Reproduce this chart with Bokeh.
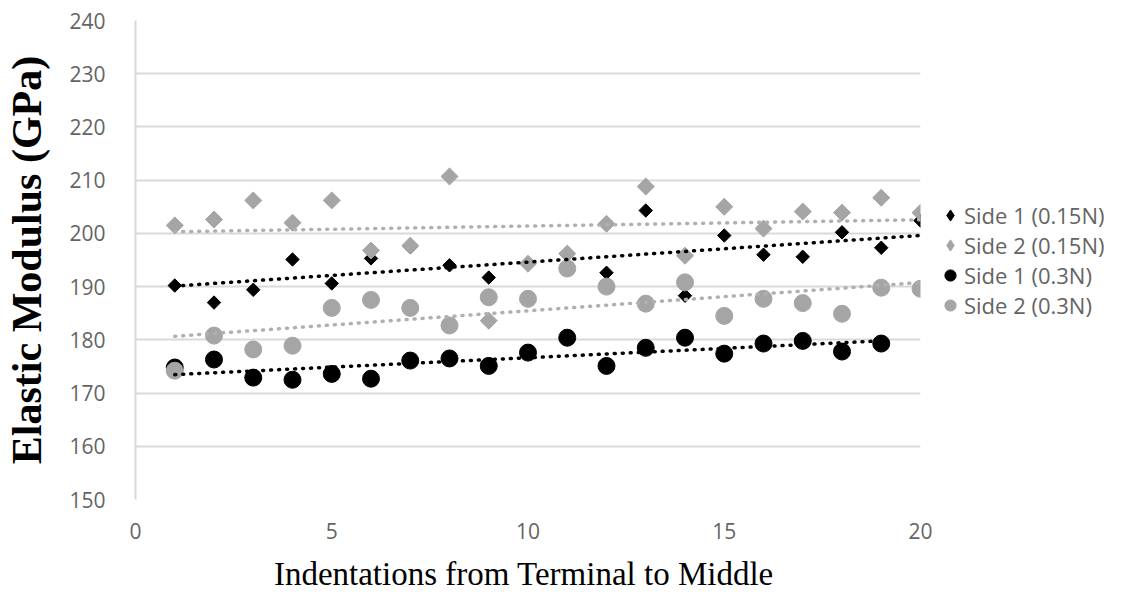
import numpy as np
from bokeh.plotting import figure
from bokeh.models import Legend, LegendItem, FixedTicker, Range1d
from bokeh.embed import file_html
from bokeh.resources import INLINE

# ---- data ----
x_s1_015 = [1, 2, 3, 4, 5, 6, 7, 8, 9, 10, 11, 12, 13, 14, 15, 16, 17, 18, 19, 20]
y_s1_015 = [190.2, 187.0, 189.4, 195.1, 190.6, 195.3, 197.4, 194.0, 191.7, 194.2, 196.0,
            192.6, 204.3, 188.3, 199.6, 196.0, 195.6, 200.2, 197.3, 202.4]

x_s2_015 = [1, 2, 3, 4, 5, 6, 7, 8, 9, 10, 11, 12, 13, 14, 15, 16, 17, 18, 19, 20]
y_s2_015 = [201.5, 202.6, 206.2, 202.0, 206.2, 196.8, 197.7, 210.7, 183.6, 194.3, 196.2,
            201.8, 208.8, 195.8, 205.0, 200.9, 204.1, 203.9, 206.7, 203.9]

x_s1_03 = [1, 2, 3, 4, 5, 6, 7, 8, 9, 10, 11, 12, 13, 14, 15, 16, 17, 18, 19]
y_s1_03 = [174.8, 176.3, 172.9, 172.5, 173.6, 172.7, 176.1, 176.5, 175.1, 177.6, 180.4,
           175.1, 178.5, 180.4, 177.4, 179.3, 179.8, 177.8, 179.3]

x_s2_03 = [1, 2, 3, 4, 5, 6, 7, 8, 9, 10, 11, 12, 13, 14, 15, 16, 17, 18, 19, 20]
y_s2_03 = [174.2, 180.8, 178.2, 178.9, 186.0, 187.5, 186.0, 182.7, 188.0, 187.7, 193.4,
           190.0, 186.8, 190.8, 184.5, 187.7, 186.9, 184.9, 189.8, 189.6]

names = ["Side 1 (0.15N)", "Side 2 (0.15N)", "Side 1 (0.3N)", "Side 2 (0.3N)"]
y_ticks = [150, 160, 170, 180, 190, 200, 210, 220, 230, 240]
x_ticks = [0, 5, 10, 15, 20]

BLACK = "#000000"
GRAY = "#a5a5a5"
TXT = "#646464"

p = figure(frame_width=785, frame_height=479, output_backend="svg", toolbar_location=None,
           x_range=Range1d(0, 20), y_range=Range1d(150, 240),
           min_border_left=135, min_border_right=205, min_border_top=20,
           min_border_bottom=93)
p.outline_line_color = None
p.background_fill_color = "white"
p.border_fill_color = "white"

p.xgrid.grid_line_color = None
p.ygrid.grid_line_color = "#d9d9d9"
p.ygrid.grid_line_width = 2

p.yaxis.ticker = FixedTicker(ticks=y_ticks)
p.xaxis.ticker = FixedTicker(ticks=x_ticks)
for ax in (p.xaxis[0], p.yaxis[0]):
    ax.major_tick_line_color = None
    ax.minor_tick_line_color = None
    ax.major_label_text_font = "Open Sans"
    ax.major_label_text_font_size = "21px"
    ax.major_label_text_color = TXT
p.xaxis.axis_line_color = None
p.yaxis.axis_line_color = "#d9d9d9"
p.yaxis.axis_line_width = 2
p.yaxis.major_label_standoff = 24
p.xaxis.major_label_standoff = 17

p.yaxis.axis_label = "Elastic Modulus (GPa)"
p.yaxis.axis_label_text_font = "Liberation Serif"
p.yaxis.axis_label_text_font_style = "bold"
p.yaxis.axis_label_text_font_size = "42px"
p.yaxis.axis_label_text_color = "#000000"
p.yaxis.axis_label_standoff = 16

p.xaxis.axis_label = "Indentations from Terminal  to Middle"
p.xaxis.axis_label_text_font = "Liberation Serif"
p.xaxis.axis_label_text_font_style = "normal"
p.xaxis.axis_label_text_font_size = "33px"
p.xaxis.axis_label_text_color = "#000000"
p.xaxis.axis_label_standoff = 14

r1 = p.scatter(x_s1_015, y_s1_015, marker="square", angle=np.pi / 4, size=9.5,
               fill_color=BLACK, line_color=BLACK)
r2 = p.scatter(x_s2_015, y_s2_015, marker="square", angle=np.pi / 4, size=12,
               fill_color=GRAY, line_color=GRAY)
r3 = p.scatter(x_s1_03, y_s1_03, marker="circle", size=17,
               fill_color=BLACK, line_color=BLACK)
r4 = p.scatter(x_s2_03, y_s2_03, marker="circle", size=17,
               fill_color=GRAY, line_color=GRAY)

# linear trend lines
for xs, ys, col in [(x_s1_015, y_s1_015, BLACK), (x_s2_015, y_s2_015, "#b0b0b0"),
                    (x_s1_03, y_s1_03, BLACK), (x_s2_03, y_s2_03, "#b0b0b0")]:
    m, b = np.polyfit(xs, ys, 1)
    xe = [min(xs), max(xs)]
    p.line(xe, [m * v + b for v in xe], line_color=col, line_width=3.5,
           line_dash="1 7", line_cap="round")

# legend-only glyph renderers (draw nothing in the plot; legend uses their style)
lg1 = p.scatter([np.nan], [np.nan], marker="diamond", fill_color=BLACK, line_color=BLACK)
lg2 = p.scatter([np.nan], [np.nan], marker="diamond", fill_color=GRAY, line_color=GRAY)

legend = Legend(items=[LegendItem(label=n, renderers=[r]) for n, r in zip(names, [lg1, lg2, r3, r4])],
                location="left", label_text_font="Open Sans", label_text_font_size="22px",
                label_text_color=TXT, border_line_color=None, background_fill_alpha=0,
                padding=0, margin=16, spacing=0, label_height=28, glyph_width=28,
                glyph_height=28, label_standoff=0)
p.add_layout(legend, "right")

open("out.html", "w").write(file_html(p, INLINE))
